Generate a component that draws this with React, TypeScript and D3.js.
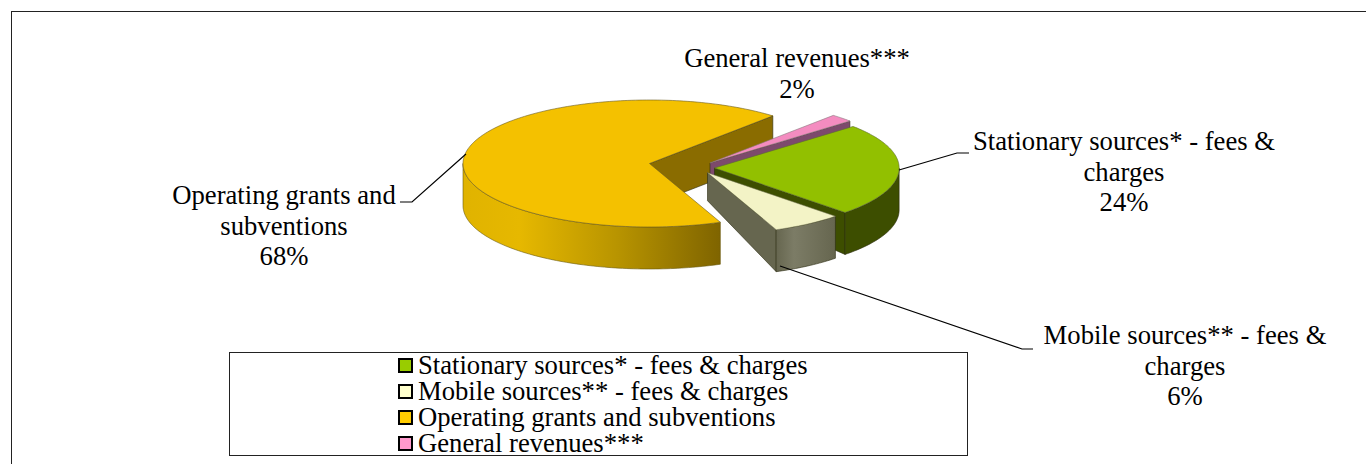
import React from "react";
import * as d3 from "d3";

const categories = [
  "Stationary sources* - fees & charges",
  "Mobile sources** - fees & charges",
  "Operating grants and subventions",
  "General revenues***",
];
const values = [24, 6.3, 67.7, 2];
const topColors = ["#92c000", "#f3f3c6", "#f4c100", "#f48cc0"];
const wallColors = ["#3d4e00", "#66664f", "#8a6c00", "#7d4a6c"];
const keyColors = ["#99cc00", "#ffffcc", "#ffcc00", "#ff99cc"];

const labelLines = [
  ["Stationary sources* - fees &", "charges", "24%"],
  ["Mobile sources** - fees &", "charges", "6%"],
  ["Operating grants and", "subventions", "68%"],
  ["General revenues***", "2%"],
];
const labelAnchors: [number, number][] = [[1124, 150], [1185, 344], [284, 204], [797, 66.5]];
const leaders: [number, number][][] = [
  [[899, 170], [957, 153], [969, 153]],
  [[780, 266], [1022, 349], [1033, 349]],
  [[400, 202], [412, 202], [466, 154]],
];
const centers: [number, number][] = [[714.5, 168], [707.5, 172.7], [649.5, 163.5], [710, 163]];
const radiusScale = [0.99, 0.97, 1, 1];
const tipDepth = [30, 28, 42, 25];

const RX = 186.5;
const RY = 63.5;
const DEPTH = 42;
const START = (48.6 * Math.PI) / 180;
const FONT = "'Liberation Serif', 'Times New Roman', serif";
const FS = 26.67;

const pie = d3.pie<number>().sort(null).startAngle(START).endAngle(START + 2 * Math.PI);
const arcs = pie(values);
const line = d3.line();
const rad = d3.scaleLinear().domain([0, 360]).range([0, 2 * Math.PI]);

function pt(i: number, a: number, dy = 0): [number, number] {
  const [cx, cy] = centers[i];
  const s = radiusScale[i];
  return [cx + RX * s * Math.sin(a), cy - RY * s * Math.cos(a) + dy];
}
function arcPts(i: number, a0: number, a1: number, dy = 0): [number, number][] {
  const n = Math.max(2, Math.ceil(Math.abs(a1 - a0) / 0.02));
  return d3.range(n + 1).map((k) => pt(i, a0 + ((a1 - a0) * k) / n, dy));
}
function topFace(i: number) {
  const { startAngle, endAngle } = arcs[i];
  return line([centers[i], ...arcPts(i, startAngle, endAngle)])! + "Z";
}
function outerWall(i: number) {
  const { startAngle, endAngle } = arcs[i];
  const a0 = Math.max(startAngle, rad(90));
  const a1 = Math.min(endAngle, rad(270));
  if (a1 <= a0) return null;
  return line([...arcPts(i, a0, a1), ...arcPts(i, a1, a0, DEPTH)])! + "Z";
}
function sideWall(i: number, a: number) {
  const c = centers[i];
  const p = pt(i, a);
  return line([c, p, [p[0], p[1] + DEPTH], [c[0], c[1] + tipDepth[i]]])! + "Z";
}

const edge = "#2b2b10";

export default function App() {
  const a = arcs;
  return (
    <svg
      width={1366}
      height={464}
      style={{ position: "absolute", left: 0, top: 0, display: "block" }}
      fontFamily={FONT}
      fontSize={FS}
    >
      <defs>
        <linearGradient id="gOp" x1="0" x2="1" y1="0" y2="0">
          <stop offset="0" stopColor="#e0b300" />
          <stop offset="0.22" stopColor="#e6b800" />
          <stop offset="0.6" stopColor="#b89400" />
          <stop offset="1" stopColor="#7f6400" />
        </linearGradient>
        <linearGradient id="gMob" x1="0" x2="1" y1="0" y2="0">
          <stop offset="0" stopColor="#66664f" />
          <stop offset="0.3" stopColor="#7c7c66" />
          <stop offset="1" stopColor="#66664f" />
        </linearGradient>
      </defs>
      <rect x={11.5} y={11.5} width={1500} height={700} fill="#fff" stroke="#222" strokeWidth={1} />

      {/* Operating grants: inner back wall */}
      <path d={sideWall(2, a[2].endAngle)} fill={wallColors[2]} stroke={edge} strokeWidth={0.6} />
      {/* General revenues */}
      <path d={sideWall(3, a[3].endAngle)} fill={wallColors[3]} stroke={edge} strokeWidth={0.6} />
      <path d={topFace(3)} fill={topColors[3]} stroke="#8a7a80" strokeWidth={0.6} />
      {/* Stationary */}
      <path d={sideWall(0, a[0].endAngle)} fill={wallColors[0]} stroke={edge} strokeWidth={0.6} />
      <path d={outerWall(0)!} fill={wallColors[0]} stroke={edge} strokeWidth={0.6} />
      <path d={topFace(0)} fill={topColors[0]} stroke="#5c6b30" strokeWidth={0.6} />
      {/* Mobile */}
      <path d={sideWall(1, a[1].endAngle)} fill={wallColors[1]} stroke={edge} strokeWidth={0.6} />
      <path d={outerWall(1)!} fill="url(#gMob)" stroke={edge} strokeWidth={0.6} />
      <path d={topFace(1)} fill={topColors[1]} stroke="#77775a" strokeWidth={0.5} />
      {/* Operating */}
      <path d={outerWall(2)!} fill="url(#gOp)" stroke="#6a5a10" strokeWidth={0.6} />
      <path d={topFace(2)} fill={topColors[2]} stroke="#6a5a20" strokeWidth={0.6} />

      {leaders.map((pts, i) => (
        <path key={i} d={line(pts)!} fill="none" stroke="#000" strokeWidth={1.2} />
      ))}
      {labelLines.map((lines, i) => (
        <text key={i} textAnchor="middle" fill="#000">
          {lines.map((t, j) => (
            <tspan key={j} x={labelAnchors[i][0]} y={labelAnchors[i][1] + Math.round(j * 30.7)}>
              {t}
            </tspan>
          ))}
        </text>
      ))}

      <rect x={229.5} y={352.5} width={738} height={103} fill="#fff" stroke="#222" strokeWidth={1} />
      {categories.map((c, i) => (
        <g key={c}>
          <rect x={399} y={359 + i * 26} width={13} height={13} fill={keyColors[i]} stroke="#000" strokeWidth={2} />
          <text x={418} y={374 + i * 26} fontSize={FS} fill="#000">
            {c}
          </text>
        </g>
      ))}
    </svg>
  );
}
